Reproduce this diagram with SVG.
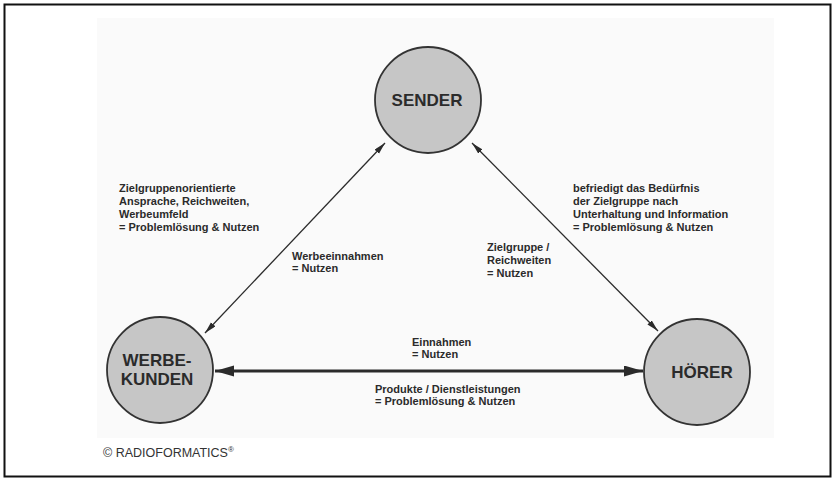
<svg xmlns="http://www.w3.org/2000/svg" width="839" height="481" viewBox="0 0 839 481">
  <style>
    .node circle { fill: #c6c6c6; stroke: #333333; stroke-width: 1.8; }
    .ntext { font-family: "Liberation Sans", Arial, sans-serif; font-weight: bold; font-size: 17px; fill: #2b2b2b; text-anchor: middle; }
    .lbl { font-family: "Liberation Sans", Arial, sans-serif; font-weight: bold; font-size: 11px; fill: #2b2b2b; }
    .thin { stroke: #2b2b2b; stroke-width: 1.3; fill: none; }
    .thick { stroke: #2b2b2b; stroke-width: 3; fill: none; }
    .copy { font-family: "Liberation Sans", Arial, sans-serif; font-size: 12.5px; fill: #333333; }
  </style>
  <defs>
    <marker id="ah" markerUnits="userSpaceOnUse" markerWidth="13" markerHeight="7" refX="12" refY="3" orient="auto-start-reverse">
      <path d="M0,0 L12,3 L0,6 z" fill="#2b2b2b"/>
    </marker>
    <marker id="ahb" markerUnits="userSpaceOnUse" markerWidth="20" markerHeight="12" refX="19" refY="5.5" orient="auto-start-reverse">
      <path d="M0,0 L19,5.5 L0,11 z" fill="#2b2b2b"/>
    </marker>
  </defs>
  <rect x="0" y="0" width="839" height="481" fill="#ffffff"/>
  <rect x="97" y="18" width="677" height="420" fill="#fafafa"/>
  <rect x="4.5" y="4.5" width="826" height="472" fill="none" stroke="#111111" stroke-width="2"/>

  <g id="connectors">
    <line class="thin" x1="205" y1="333" x2="385" y2="143" marker-start="url(#ah)" marker-end="url(#ah)"/>
    <line class="thin" x1="472" y1="143" x2="658" y2="331" marker-start="url(#ah)" marker-end="url(#ah)"/>
    <line class="thick" x1="215" y1="371" x2="643" y2="371" marker-start="url(#ahb)" marker-end="url(#ahb)"/>
  </g>

  <g id="sender" class="node">
    <circle cx="428" cy="100" r="53"/>
    <text class="ntext" x="427" y="106">SENDER</text>
  </g>
  <g id="werbekunden" class="node">
    <circle cx="160" cy="370" r="53"/>
    <text class="ntext" x="157" y="366">WERBE-</text>
    <text class="ntext" x="157" y="385">KUNDEN</text>
  </g>
  <g id="hoerer" class="node">
    <circle cx="697" cy="372" r="53"/>
    <text class="ntext" x="702" y="378">HÖRER</text>
  </g>

  <g id="labels">
    <text class="lbl" x="119" y="192">Zielgruppenorientierte</text>
    <text class="lbl" x="119" y="205">Ansprache, Reichweiten,</text>
    <text class="lbl" x="119" y="218">Werbeumfeld</text>
    <text class="lbl" x="119" y="231">= Problemlösung &amp; Nutzen</text>

    <text class="lbl" x="573" y="192">befriedigt das Bedürfnis</text>
    <text class="lbl" x="573" y="205">der Zielgruppe nach</text>
    <text class="lbl" x="573" y="218">Unterhaltung und Information</text>
    <text class="lbl" x="573" y="231">= Problemlösung &amp; Nutzen</text>

    <text class="lbl" x="292" y="260">Werbeeinnahmen</text>
    <text class="lbl" x="292" y="272">= Nutzen</text>

    <text class="lbl" x="487" y="251">Zielgruppe /</text>
    <text class="lbl" x="487" y="264">Reichweiten</text>
    <text class="lbl" x="487" y="277">= Nutzen</text>

    <text class="lbl" x="412" y="346">Einnahmen</text>
    <text class="lbl" x="412" y="358">= Nutzen</text>

    <text class="lbl" x="375" y="393">Produkte / Dienstleistungen</text>
    <text class="lbl" x="375" y="405">= Problemlösung &amp; Nutzen</text>
  </g>

  <text class="copy" x="103" y="457">© RADIOFORMATICS<tspan font-size="8" dy="-5">®</tspan></text>
</svg>
